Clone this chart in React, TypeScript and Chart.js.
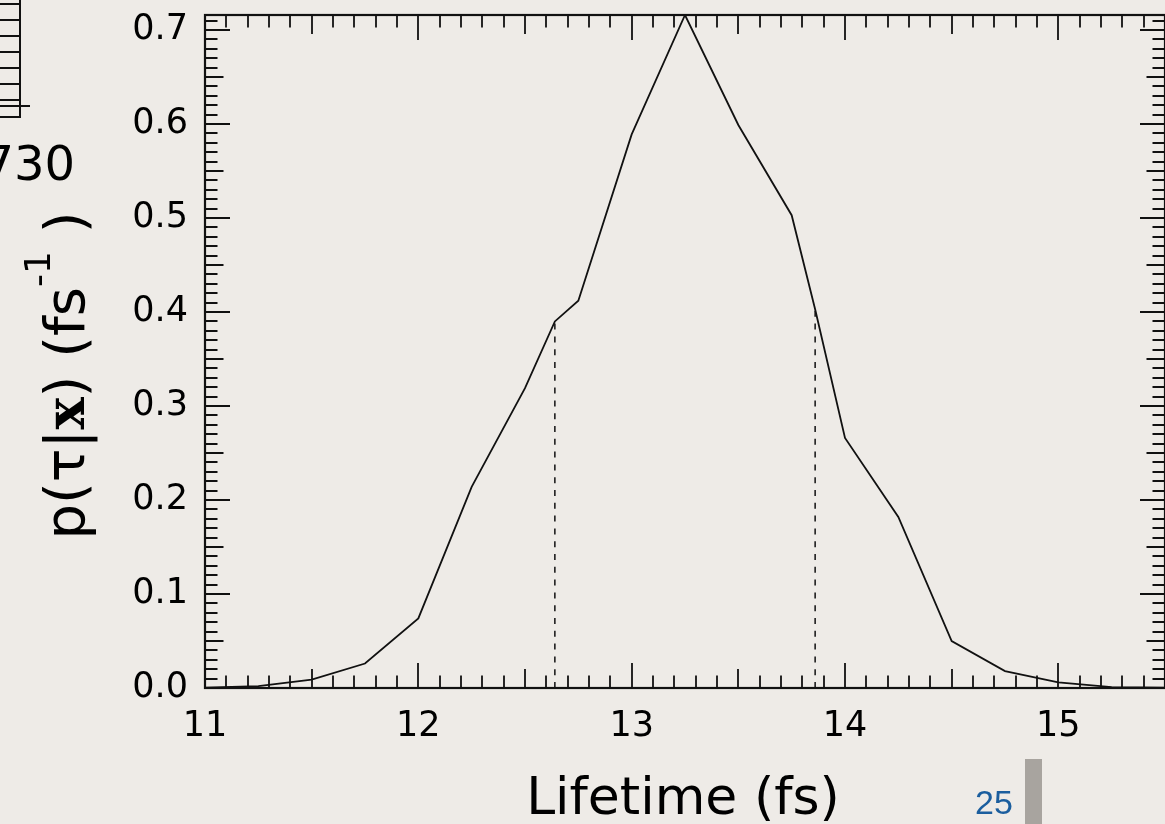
import React, { useEffect, useRef } from "react";
import { Chart, registerables } from "chart.js";

Chart.register(...registerables);

// ---- data ----
const lifetimeFs = [11.0, 11.25, 11.5, 11.75, 12.0, 12.25, 12.5, 12.64, 12.75, 13.0, 13.25, 13.5, 13.75, 13.86, 14.0, 14.25, 14.5, 14.75, 15.0, 15.25, 15.5];
const posterior = [0.0005, 0.002, 0.009, 0.026, 0.074, 0.214, 0.319, 0.39, 0.412, 0.589, 0.716, 0.599, 0.503, 0.403, 0.266, 0.182, 0.05, 0.018, 0.006, 0.001, 0.0003];
const intervalFs = [12.64, 13.86];
const intervalP = [0.39, 0.403];

const xTickValues = [11, 12, 13, 14, 15];
const xTickLabels = ["11", "12", "13", "14", "15"];
const yTickValues = [0, 0.1, 0.2, 0.3, 0.4, 0.5, 0.6, 0.7];
const yTickLabels = ["0.0", "0.1", "0.2", "0.3", "0.4", "0.5", "0.6", "0.7"];

const X_MIN = 11;
const X_MAX = 15.5;
const Y_MIN = 0;
const Y_MAX = 0.716;
const X_MINOR_STEP = 0.1;
const Y_MINOR_STEP = 0.01;

const xTitle = "Lifetime (fs)";
const sideNumber = "730";
const pageNumber = "25";

const BG = "#EEEBE7";
const INK = "#111111";

const framePlugin = {
  id: "frame",
  afterDatasetsDraw(chart: any) {
    const { ctx, chartArea: a, scales } = chart;
    const xs = scales.x;
    const ys = scales.y;
    ctx.save();
    ctx.strokeStyle = INK;
    ctx.lineCap = "butt";
    ctx.lineWidth = 1.8;
    const nx = Math.round((X_MAX - X_MIN) / X_MINOR_STEP);
    for (let i = 0; i <= nx; i++) {
      const v = X_MIN + i * X_MINOR_STEP;
      const px = Math.round(xs.getPixelForValue(v));
      const len = i % 10 === 0 ? 25 : i % 5 === 0 ? 19 : 12.5;
      ctx.beginPath();
      ctx.moveTo(px, a.bottom);
      ctx.lineTo(px, a.bottom - len);
      ctx.moveTo(px, a.top);
      ctx.lineTo(px, a.top + len);
      ctx.stroke();
    }
    const ny = Math.floor((Y_MAX - Y_MIN) / Y_MINOR_STEP + 1e-6);
    for (let i = 0; i <= ny; i++) {
      const v = Y_MIN + i * Y_MINOR_STEP;
      const py = Math.round(ys.getPixelForValue(v));
      const len = i % 10 === 0 ? 25 : i % 5 === 0 ? 18.5 : 12.5;
      ctx.beginPath();
      ctx.moveTo(a.left, py);
      ctx.lineTo(a.left + len, py);
      ctx.moveTo(a.right, py);
      ctx.lineTo(a.right - len, py);
      ctx.stroke();
    }
    ctx.lineWidth = 2.2;
    ctx.strokeRect(a.left, a.top, a.right - a.left, a.bottom - a.top);
    ctx.restore();
  },
  afterDraw(chart: any) {
    const { ctx, chartArea: a } = chart;
    ctx.save();
    ctx.fillStyle = "#000";
    ctx.font = '52px "DejaVu Sans"';
    ctx.textAlign = "center";
    ctx.textBaseline = "alphabetic";
    ctx.fillText(xTitle, 683, 814);

    // y title: p(τ|x) (fs^-1 )
    const parts = [
      { t: "p(τ|", f: '56px "DejaVu Sans"', dy: 0 },
      { t: "x", f: 'bold 54px "DejaVu Serif"', dy: 0 },
      { t: ") (fs", f: '56px "DejaVu Sans"', dy: 0 },
      { t: "-1", f: '36px "DejaVu Sans"', dy: -34 },
      { t: " )", f: '56px "DejaVu Sans"', dy: 0 },
    ];
    let total = 0;
    const widths = parts.map((p) => {
      ctx.font = p.f;
      const w = ctx.measureText(p.t).width;
      total += w;
      return w;
    });
    ctx.translate(84, (a.top + a.bottom) / 2 + 24);
    ctx.rotate(-Math.PI / 2);
    ctx.textAlign = "left";
    let x = -total / 2;
    parts.forEach((p, i) => {
      ctx.font = p.f;
      ctx.fillText(p.t, x, p.dy);
      x += widths[i];
    });
    ctx.restore();
  },
};

function App() {
  const canvasRef = useRef<HTMLCanvasElement | null>(null);

  useEffect(() => {
    if (!canvasRef.current) return;
    const curve = lifetimeFs.map((x, i) => ({ x, y: posterior[i] }));
    const bounds = intervalFs.map((x, i) => ({
      label: "bound" + i,
      data: [
        { x, y: 0 },
        { x, y: intervalP[i] },
      ],
      borderColor: INK,
      borderWidth: 1.5,
      borderDash: [6, 6.8],
      pointRadius: 0,
      fill: false,
    }));
    const tickFont = { family: "'DejaVu Sans'", size: 35 };
    const chart = new Chart(canvasRef.current, {
      type: "line",
      data: {
        datasets: [
          {
            label: "p",
            data: curve,
            borderColor: INK,
            borderWidth: 1.8,
            pointRadius: 0,
            tension: 0,
            fill: false,
          },
          ...bounds,
        ],
      },
      options: {
        animation: false,
        responsive: false,
        devicePixelRatio: 1,
        parsing: false as any,
        layout: { padding: { left: 0, right: 0, top: 15, bottom: 0 } },
        plugins: {
          legend: { display: false },
          tooltip: { enabled: false },
          title: { display: false },
        },
        scales: {
          x: {
            type: "linear",
            min: X_MIN,
            max: X_MAX,
            grid: { display: false, drawTicks: false },
            border: { display: false },
            afterBuildTicks: (s: any) => {
              s.ticks = xTickValues.map((v) => ({ value: v }));
            },
            afterFit: (s: any) => {
              s.height = 136;
              s.paddingLeft = 0;
              s.paddingRight = 0;
            },
            ticks: {
              autoSkip: false,
              maxRotation: 0,
              padding: 18,
              color: "#000",
              font: tickFont,
              callback: (_v: any, i: number) => xTickLabels[i],
            },
          },
          y: {
            type: "linear",
            min: Y_MIN,
            max: Y_MAX,
            grid: { display: false, drawTicks: false },
            border: { display: false },
            afterBuildTicks: (s: any) => {
              s.ticks = yTickValues.map((v) => ({ value: v }));
            },
            afterFit: (s: any) => {
              s.width = 205;
              s.paddingTop = 0;
              s.paddingBottom = 0;
            },
            ticks: {
              autoSkip: false,
              padding: 17,
              color: "#000",
              font: tickFont,
              callback: (_v: any, i: number) => yTickLabels[i],
            },
          },
        },
      },
      plugins: [framePlugin],
    });
    return () => chart.destroy();
  }, []);

  const tickYs = [3, 19, 35, 51, 67, 83, 99];
  return (
    <div
      style={{
        position: "fixed",
        left: 0,
        top: 0,
        width: 1165,
        height: 824,
        background: BG,
        overflow: "hidden",
      }}
    >
      <canvas ref={canvasRef} width={1165} height={824} style={{ display: "block" }} />
      {/* fragment of the neighbouring panel */}
      <div style={{ position: "absolute", left: 19, top: 0, width: 2, height: 118, background: INK }} />
      {tickYs.map((y) => (
        <div key={y} style={{ position: "absolute", left: 0, top: y, width: 20, height: 2, background: INK }} />
      ))}
      <div style={{ position: "absolute", left: 0, top: 105, width: 30, height: 2, background: INK }} />
      <div style={{ position: "absolute", left: 0, top: 116, width: 21, height: 2, background: INK }} />
      <div
        style={{
          position: "absolute",
          right: 1165 - 75,
          top: 139,
          fontFamily: "'DejaVu Sans'",
          fontSize: 48,
          lineHeight: 1,
          color: "#000",
          whiteSpace: "nowrap",
        }}
      >
        {sideNumber}
      </div>
      <div
        style={{
          position: "absolute",
          left: 975,
          top: 785,
          fontFamily: "'Liberation Sans'",
          fontSize: 34,
          lineHeight: 1,
          color: "#1B5E9E",
        }}
      >
        {pageNumber}
      </div>
      <div style={{ position: "absolute", left: 1025, top: 759, width: 17, height: 65, background: "#A8A49F" }} />
    </div>
  );
}

export default App;
